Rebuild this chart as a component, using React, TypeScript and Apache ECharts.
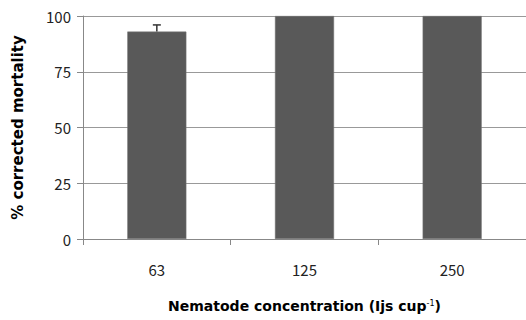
import React, { useEffect, useRef } from "react";
import * as echarts from "echarts";

const categories = ["63", "125", "250"];
const mortality = [93, 100, 100];
const errors = [3, 0, 0];
const yTicks = [0, 25, 50, 75, 100];

export default function App() {
  const ref = useRef<HTMLDivElement>(null);
  useEffect(() => {
    if (!ref.current) return;
    const chart = echarts.init(ref.current, null, { renderer: "svg" });
    const font = "'Noto Sans CJK KR', 'Noto Sans', sans-serif";
    const titleFont = "'DejaVu Sans', sans-serif";
    chart.setOption({
      animation: false,
      grid: { left: 83, right: 0, top: 16, bottom: 81 },
      xAxis: {
        type: "category",
        data: categories,
        name: "Nematode concentration (Ijs cup{sup|-1})",
        nameLocation: "middle",
        nameGap: 60,
        nameTextStyle: {
          fontFamily: titleFont,
          fontSize: 14,
          fontWeight: "bold",
          color: "#000",
          rich: {
            sup: { fontFamily: titleFont, fontSize: 8, fontWeight: "normal", verticalAlign: "top", color: "#000" },
          },
        },
        axisLine: { lineStyle: { color: "#888", width: 1 } },
        axisTick: { show: true, length: 6, lineStyle: { color: "#888" } },
        axisLabel: { fontFamily: font, fontSize: 15, color: "#222", margin: 23 },
      },
      yAxis: {
        type: "value",
        min: 0,
        max: 100,
        interval: 25,
        name: "% corrected mortality",
        nameLocation: "middle",
        nameGap: 58,
        nameRotate: 90,
        nameTextStyle: { fontFamily: titleFont, fontSize: 15, fontWeight: "bold", color: "#000" },
        axisLine: { show: true, lineStyle: { color: "#888" } },
        axisTick: { show: true, length: 6, lineStyle: { color: "#888" } },
        axisLabel: {
          fontFamily: font,
          fontSize: 15,
          color: "#222",
          margin: 12,
          formatter: (v: number) => (yTicks.includes(v) ? String(v) : ""),
        },
        splitLine: { show: true, lineStyle: { color: "#999", width: 1 } },
      },
      series: [
        {
          type: "bar",
          data: mortality,
          barWidth: "40%",
          itemStyle: { color: "#595959", borderColor: "#777", borderWidth: 0.5 },
          z: 2,
        },
        {
          type: "custom",
          z: 3,
          data: mortality.map((v, i) => [i, v, errors[i]]),
          renderItem: (params: any, api: any) => {
            const err = api.value(2);
            if (!err) return null;
            const x = api.value(0);
            const y = api.value(1);
            const p0 = api.coord([x, y]);
            const p1 = api.coord([x, y + err]);
            return {
              type: "group",
              children: [
                {
                  type: "line",
                  shape: { x1: p0[0], y1: p0[1], x2: p1[0], y2: p1[1] },
                  style: { stroke: "#333", lineWidth: 1.5 },
                },
                {
                  type: "line",
                  shape: { x1: p1[0] - 4, y1: p1[1], x2: p1[0] + 4, y2: p1[1] },
                  style: { stroke: "#333", lineWidth: 1.5 },
                },
              ],
            };
          },
        },
      ],
    });
    return () => chart.dispose();
  }, []);
  return <div ref={ref} style={{ width: 526, height: 320, position: "absolute", left: 0, top: 0, background: "#fff" }} />;
}
